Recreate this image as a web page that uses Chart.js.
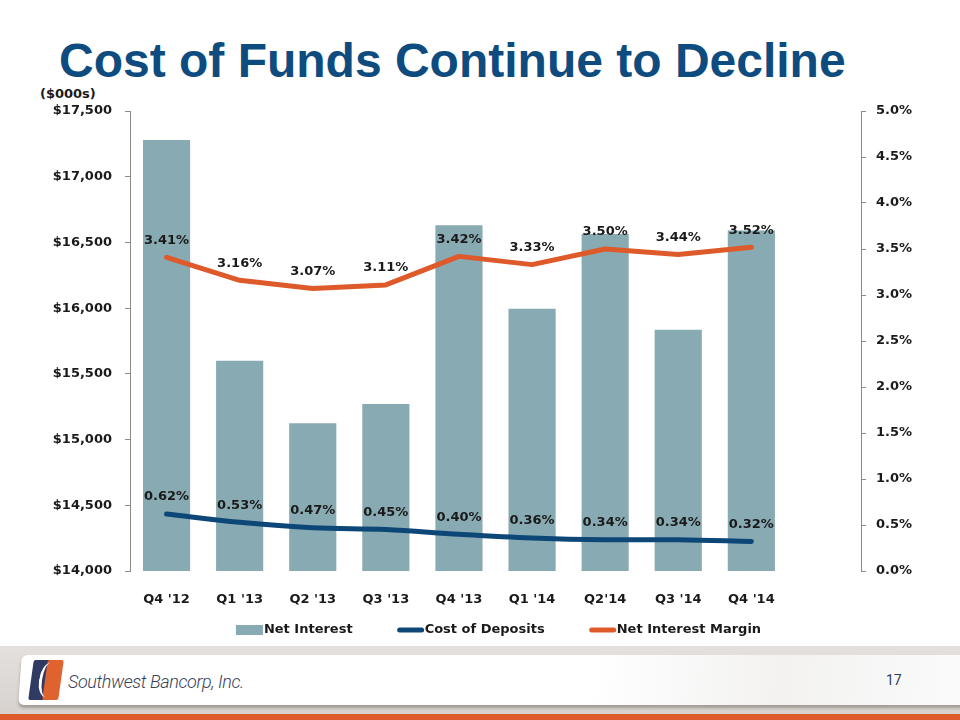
<!DOCTYPE html>
<html>
<head>
<meta charset="utf-8">
<script src="https://cdn.jsdelivr.net/npm/chart.js@4.4.1/dist/chart.umd.min.js"></script>
<style>
  html, body { margin: 0; padding: 0; background: #fff; }
  body { width: 960px; height: 720px; position: relative; overflow: hidden; font-family: "DejaVu Sans", sans-serif; }
  #title { position: absolute; left: 59px; top: 37px; font-family: "Liberation Sans", Arial, sans-serif; font-weight: bold; font-size: 48px; line-height: 48px; color: #0E4C80; white-space: nowrap; }
  #units { position: absolute; left: 40px; top: 86px; font-weight: bold; font-size: 13px; color: #1a1a1a; }
  #wrap { position: absolute; left: 0; top: 88px; width: 960px; height: 560px; }
  #footer { position: absolute; left: 0; top: 646px; width: 960px; height: 74px; background: linear-gradient(#e4e0dd, #d6d1cd); }
  #panel { position: absolute; left: 20px; top: 9px; width: 950px; height: 50px; background: linear-gradient(90deg, #ffffff 0%, #ffffff 60%, #f3f2f1 80%, #fbfbfb 100%); border-radius: 6px 0 0 6px; box-shadow: 0 3px 3px rgba(120,110,100,0.55); transform: skewX(-4deg); }
  #orange { position: absolute; left: 0; top: 68px; width: 960px; height: 6px; background: #DD5A2C; }
  #logo { position: absolute; left: 27px; top: 14px; width: 36px; height: 40px; }
  #logoNavy { position: absolute; left: 4px; top: 0; width: 22px; height: 40px; background: #2F3B62; transform: skewX(-8deg); border-radius: 2px; }
  #logoOrange { position: absolute; left: 18px; top: 0; width: 16px; height: 40px; background: #E0632F; transform: skewX(-8deg); border-radius: 2px; }
  #logoS { position: absolute; left: 12px; top: 3px; width: 12px; height: 34px; border-left: 3px solid #fff; border-radius: 60% 0 0 60% / 50% 0 0 50%; transform: skewX(-8deg); }
  #brand { position: absolute; left: 68px; top: 25px; font-family: Roboto, "Open Sans", sans-serif; font-style: italic; font-weight: 300; font-size: 18px; letter-spacing: -0.4px; color: #3A3F58; white-space: nowrap; }
  #page { position: absolute; left: 886px; top: 26px; font-family: Roboto, sans-serif; font-size: 14px; color: #2E3E58; }
</style>
</head>
<body>
<div id="title">Cost of Funds Continue to Decline</div>
<div id="units">($000s)</div>
<div id="wrap"><canvas id="c" width="960" height="560"></canvas></div>
<div id="footer">
  <div id="panel"></div>
  <div id="logo"><div id="logoNavy"></div><div id="logoOrange"></div><div id="logoS"></div></div>
  <div id="brand">Southwest Bancorp, Inc.</div>
  <div id="page">17</div>
  <div id="orange"></div>
</div>
<script>
// ---- data ----
const categories = ["Q4 '12", "Q1 '13", "Q2 '13", "Q3 '13", "Q4 '13", "Q1 '14", "Q2'14", "Q3 '14", "Q4 '14", ""];
const netInterest = [17280, 15600, 15125, 15270, 16630, 15995, 16565, 15835, 16590];
const costOfDeposits = [0.62, 0.53, 0.47, 0.45, 0.40, 0.36, 0.34, 0.34, 0.32];
const netInterestMargin = [3.41, 3.16, 3.07, 3.11, 3.42, 3.33, 3.50, 3.44, 3.52];
const seriesNames = ["Net Interest", "Cost of Deposits", "Net Interest Margin"];

const FONT = '"DejaVu Sans", sans-serif';
const BAR = '#88AAB2', NAVY = '#0D4777', ORANGE = '#DF5A2A';

const valueLabels = {
  id: 'valueLabels',
  afterDatasetsDraw(chart) {
    const ctx = chart.ctx;
    ctx.save();
    ctx.font = 'bold 13px ' + FONT;
    ctx.fillStyle = '#1a1a1a';
    ctx.textAlign = 'center';
    ctx.textBaseline = 'middle';
    chart.data.datasets.forEach((ds, i) => {
      if (ds.type !== 'line') return;
      const meta = chart.getDatasetMeta(i);
      meta.data.forEach((pt, j) => {
        const v = ds.data[j];
        if (v == null) return;
        ctx.fillText(v.toFixed(2) + '%', pt.x, pt.y - 17);
      });
    });
    ctx.restore();
  }
};

const customLegend = {
  id: 'customLegend',
  afterDraw(chart) {
    const ctx = chart.ctx, ca = chart.chartArea;
    ctx.save();
    ctx.font = 'bold 13px ' + FONT;
    ctx.textBaseline = 'middle';
    const boxW = 27, gapText = 1, gapItem = 44;
    const items = chart.data.datasets.map(ds => ({ ds, w: boxW + gapText + ctx.measureText(ds.label).width }));
    const total = items.reduce((s, it) => s + it.w, 0) + gapItem * (items.length - 1);
    let x = (ca.left + ca.right) / 2 + 3 - total / 2;
    const y = ca.bottom + 59;
    items.forEach(it => {
      const ds = it.ds;
      if (ds.type === 'line') {
        ctx.strokeStyle = ds.borderColor;
        ctx.lineWidth = 5;
        ctx.lineCap = 'round';
        ctx.beginPath();
        ctx.moveTo(x + 3, y);
        ctx.lineTo(x + boxW - 2, y);
        ctx.stroke();
      } else {
        ctx.fillStyle = ds.backgroundColor;
        ctx.fillRect(x, y - 5, boxW, 10);
      }
      ctx.fillStyle = '#1a1a1a';
      ctx.textAlign = 'left';
      ctx.fillText(ds.label, x + boxW + gapText, y);
      x += it.w + gapItem;
    });
    ctx.restore();
  }
};

new Chart(document.getElementById('c'), {
  data: {
    labels: categories,
    datasets: [
      { type: 'bar', label: seriesNames[0], data: netInterest, backgroundColor: BAR, yAxisID: 'y', order: 10,
        categoryPercentage: 1.0, barPercentage: 0.645 },
      { type: 'line', label: seriesNames[1], data: costOfDeposits, borderColor: NAVY, backgroundColor: NAVY, borderWidth: 5,
        pointRadius: 0, tension: 0.35, yAxisID: 'y2', order: 1, borderCapStyle: 'round' },
      { type: 'line', label: seriesNames[2], data: netInterestMargin, borderColor: ORANGE, backgroundColor: ORANGE, borderWidth: 5,
        pointRadius: 0, tension: 0, yAxisID: 'y2', order: 1, borderCapStyle: 'round', borderJoinStyle: 'round' }
    ]
  },
  options: {
    responsive: false,
    animation: false,
    events: [],
    layout: { padding: { top: 23, bottom: 41, left: 0, right: 0 } },
    plugins: { legend: { display: false }, tooltip: { enabled: false } },
    scales: {
      x: {
        grid: { display: false },
        border: { display: false },
        ticks: { color: '#1a1a1a', font: { family: FONT, size: 13, weight: 'bold' }, padding: 13, maxRotation: 0, autoSkip: false },
        afterFit(s) { s.height = 36; }
      },
      y: {
        position: 'left',
        min: 14000, max: 17500,
        ticks: { stepSize: 500, color: '#1a1a1a', font: { family: FONT, size: 13, weight: 'bold' }, padding: 13,
          callback: v => '$' + Number(v).toLocaleString('en-US') },
        grid: { display: true, drawOnChartArea: false, drawTicks: true, tickLength: 5, color: '#8a8a8a' },
        border: { display: true, color: '#8a8a8a' },
        afterFit(s) { s.width = 130; }
      },
      y2: {
        position: 'right',
        min: 0, max: 5,
        ticks: { stepSize: 0.5, color: '#1a1a1a', font: { family: FONT, size: 13, weight: 'bold' }, padding: 10,
          callback: v => Number(v).toFixed(1) + '%' },
        grid: { display: true, drawOnChartArea: false, drawTicks: true, tickLength: 5, color: '#8a8a8a' },
        border: { display: true, color: '#8a8a8a' },
        afterFit(s) { s.width = 99; }
      }
    }
  },
  plugins: [valueLabels, customLegend]
});
</script>
</body>
</html>
